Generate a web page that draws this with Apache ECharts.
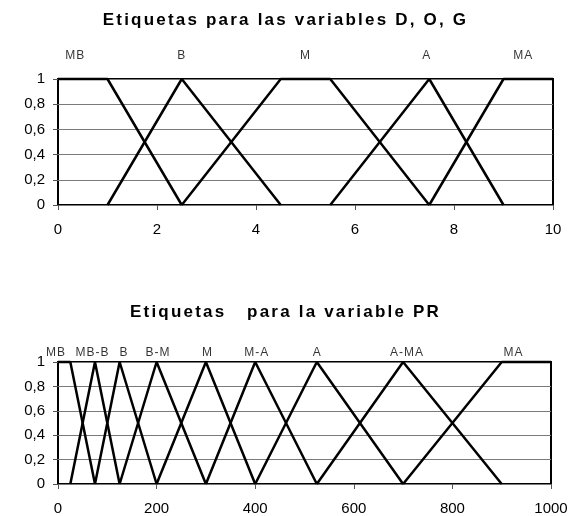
<!DOCTYPE html>
<html><head><meta charset="utf-8">
<script src="https://cdn.jsdelivr.net/npm/echarts@6/dist/echarts.min.js"></script>
<style>html,body{margin:0;padding:0;background:#fff}#c{width:571px;height:516px}</style>
</head><body><div id="c"></div>
<script>
// ---- data ----
const topTitle = 'Etiquetas para las variables D, O, G';
const bottomTitle = 'Etiquetas   para la variable PR';
const yTickLabels = ['0', '0,2', '0,4', '0,6', '0,8', '1'];

const topLabelNames = ['MB', 'B', 'M', 'A', 'MA'];
const topLabelX = [0.35, 2.5, 5, 7.45, 9.4];
const topMB = [[0, 1], [1, 1], [2.5, 0]];
const topB = [[1, 0], [2.5, 1], [4.5, 0]];
const topM = [[2.5, 0], [4.5, 1], [5.5, 1], [7.5, 0]];
const topA = [[5.5, 0], [7.5, 1], [9, 0]];
const topMA = [[7.5, 0], [9, 1], [10, 1]];

const botLabelNames = ['MB', 'MB-B', 'B', 'B-M', 'M', 'M-A', 'A', 'A-MA', 'MA'];
const botLabelX = [-4, 70, 134, 203, 303, 403, 526, 708, 924];
const prMB = [[0, 1], [25, 1], [75, 0]];
const prMBB = [[25, 0], [75, 1], [125, 0]];
const prB = [[75, 0], [125, 1], [200, 0]];
const prBM = [[125, 0], [200, 1], [300, 0]];
const prM = [[200, 0], [300, 1], [400, 0]];
const prMA_ = [[300, 0], [400, 1], [525, 0]];
const prA = [[400, 0], [525, 1], [700, 0]];
const prAMA = [[525, 0], [700, 1], [900, 0]];
const prMA = [[700, 0], [900, 1], [1000, 1]];

// letter spacing for the spaced-out titles / labels (Chrome canvas letterSpacing)
(function () {
  const P = CanvasRenderingContext2D.prototype;
  const orig = P.fillText;
  P.fillText = function (t, x, y, m) {
    const f = this.font || '';
    let s = '0px';
    if (/bold|700/.test(f)) s = '2.2px';
    else if (/(^|\s)12px/.test(f)) s = '1px';
    if ('letterSpacing' in this) this.letterSpacing = s;
    return m === undefined ? orig.call(this, t, x, y) : orig.call(this, t, x, y, m);
  };
})();

const FONT = '"Liberation Sans", Arial, sans-serif';

function lineSeries(data, gi) {
  return {
    type: 'line', data: data, xAxisIndex: gi, yAxisIndex: gi,
    symbol: 'none', silent: true, clip: false,
    lineStyle: { color: '#000', width: 2.5 }
  };
}
function labelSeries(names, xs, gi, dist) {
  return {
    type: 'scatter', xAxisIndex: gi, yAxisIndex: gi, silent: true, clip: false,
    symbolSize: 0.01, itemStyle: { color: 'rgba(0,0,0,0)' },
    data: xs.map((x, i) => ({ value: [x, 1], name: names[i] })),
    label: { show: true, position: 'top', distance: dist, formatter: '{b}',
             color: '#000', fontSize: 12, fontFamily: FONT }
  };
}
function xAxis(gi, max, interval) {
  return {
    type: 'value', gridIndex: gi, min: 0, max: max, interval: interval,
    axisLine: { show: false },
    axisTick: { show: true, inside: false, length: 5, lineStyle: { color: '#555' } },
    axisLabel: { color: '#000', fontSize: 15, fontFamily: FONT, margin: 17,
                 formatter: v => String(v) },
    splitLine: { show: false }
  };
}
function yAxis(gi) {
  return {
    type: 'value', gridIndex: gi, min: 0, max: 1, interval: 0.2,
    axisLine: { show: false },
    axisTick: { show: true, inside: false, length: 5, lineStyle: { color: '#555' } },
    axisLabel: { color: '#000', fontSize: 15, fontFamily: FONT, margin: 13,
                 formatter: v => yTickLabels[Math.round(v / 0.2)] },
    splitLine: { show: true, lineStyle: { color: '#7a7a7a', width: 1 } }
  };
}

const chart = echarts.init(document.getElementById('c'), null, { renderer: 'canvas' });
chart.setOption({
  animation: false,
  backgroundColor: '#fff',
  title: [
    { text: topTitle, left: 'center', top: 12, padding: 0,
      textStyle: { fontSize: 17, fontWeight: 'bold', color: '#000', fontFamily: FONT } },
    { text: bottomTitle, left: 'center', top: 304, padding: 0,
      textStyle: { fontSize: 17, fontWeight: 'bold', color: '#000', fontFamily: FONT } }
  ],
  grid: [
    { left: 58, top: 79, width: 495, height: 126, show: true, borderColor: '#000', borderWidth: 2, backgroundColor: 'transparent' },
    { left: 58, top: 362, width: 493, height: 123, show: true, borderColor: '#000', borderWidth: 2, backgroundColor: 'transparent' }
  ],
  xAxis: [xAxis(0, 10, 2), xAxis(1, 1000, 200)],
  yAxis: [yAxis(0), yAxis(1)],
  series: [
    lineSeries(topMB, 0), lineSeries(topB, 0), lineSeries(topM, 0),
    lineSeries(topA, 0), lineSeries(topMA, 0),
    labelSeries(topLabelNames, topLabelX, 0, 17),
    lineSeries(prMB, 1), lineSeries(prMBB, 1), lineSeries(prB, 1),
    lineSeries(prBM, 1), lineSeries(prM, 1), lineSeries(prMA_, 1),
    lineSeries(prA, 1), lineSeries(prAMA, 1), lineSeries(prMA, 1),
    labelSeries(botLabelNames, botLabelX, 1, 3)
  ]
});
</script>
</body></html>
